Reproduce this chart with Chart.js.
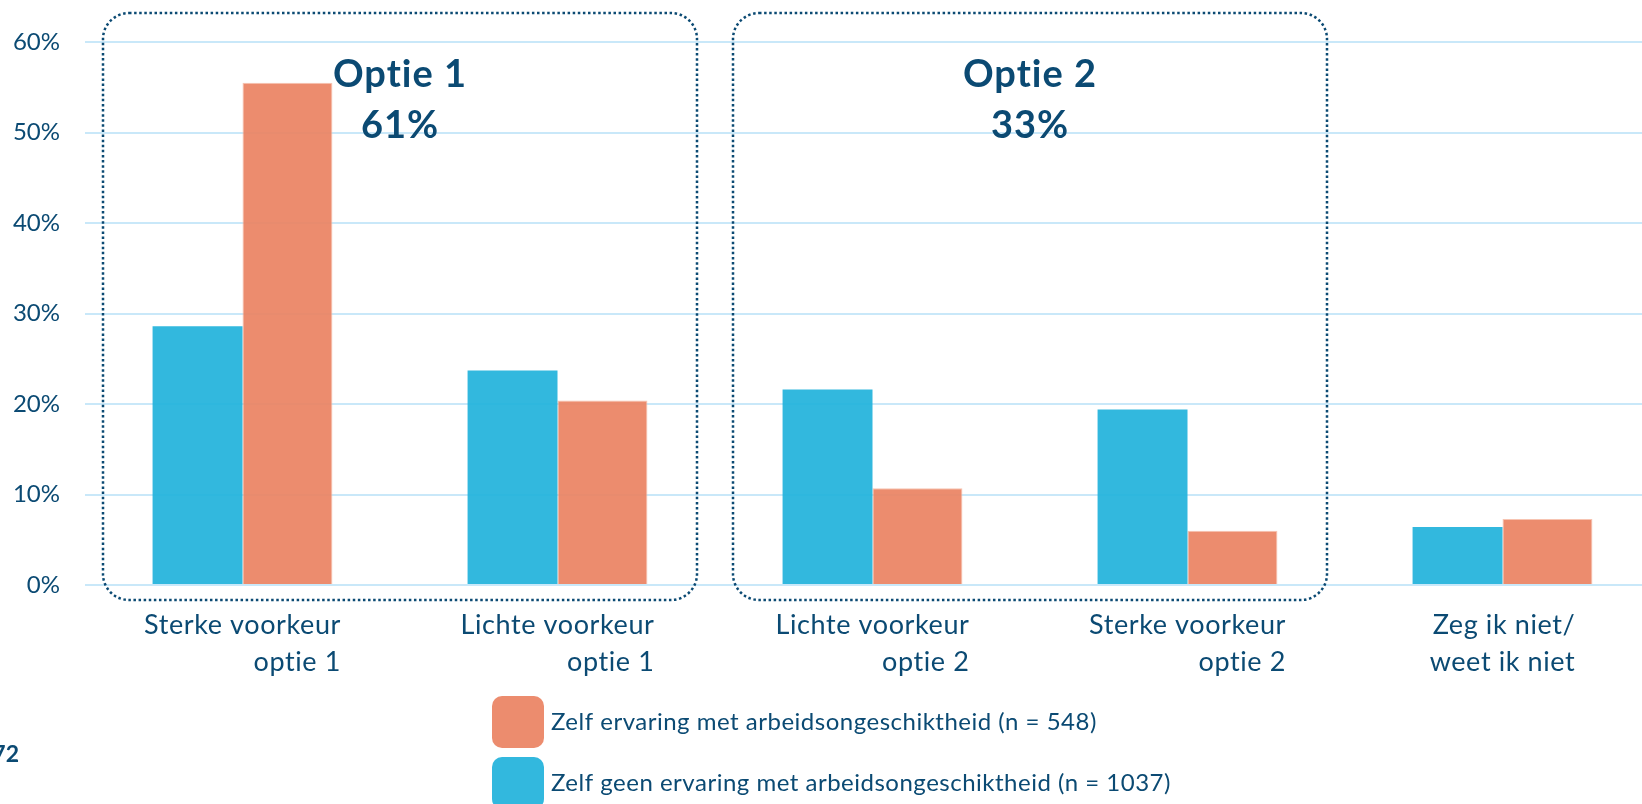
<!DOCTYPE html>
<html>
<head>
<meta charset="utf-8">
<script src="https://cdn.jsdelivr.net/npm/chart.js@4.4.1/dist/chart.umd.min.js"></script>
<style>
  html, body { margin: 0; padding: 0; background: #fff; overflow: hidden; }
  #wrap { position: relative; width: 1642px; height: 804px; overflow: hidden; }
  #chart { position: absolute; left: 0; top: 0; }
</style>
</head>
<body>
<div id="wrap"><canvas id="chart" width="1680" height="804"></canvas></div>
<script>
var categories = [
  ['Sterke voorkeur', 'optie 1'],
  ['Lichte voorkeur', 'optie 1'],
  ['Lichte voorkeur', 'optie 2'],
  ['Sterke voorkeur', 'optie 2'],
  ['Zeg ik niet/', 'weet ik niet']
];
var geenErvaring = [28.6, 23.7, 21.6, 19.4, 6.4];
var welErvaring = [55.5, 20.4, 10.7, 6.0, 7.3];
var seriesNames = [
  'Zelf geen ervaring met arbeidsongeschiktheid (n = 1037)',
  'Zelf ervaring met arbeidsongeschiktheid (n = 548)'
];
var groupTitles = ['Optie 1', 'Optie 2'];
var groupTotals = ['61%', '33%'];
var groupRanges = [[0, 1], [2, 3]];
var pageNumber = '72';

var navy = '#0b4a73';
var blue = 'rgba(33, 178, 219, 0.92)';
var orange = 'rgba(234, 130, 98, 0.92)';

function roundedRect(ctx, x, y, w, h, r) {
    ctx.beginPath();
    ctx.moveTo(x + r, y);
    ctx.arcTo(x + w, y, x + w, y + h, r);
    ctx.arcTo(x + w, y + h, x, y + h, r);
    ctx.arcTo(x, y + h, x, y, r);
    ctx.arcTo(x, y, x + w, y, r);
    ctx.closePath();
}

// dotted group boxes, group headings, two-line category labels and the legend
var overlay = {
    id: 'overlay',
    afterDraw: function(chart) {
        var ctx = chart.ctx;
        var xs = chart.scales.x;
        var area = chart.chartArea;
        var step = xs.getPixelForValue(1) - xs.getPixelForValue(0);

        ctx.save();
        for (var g = 0; g < groupRanges.length; g++) {
            var left = xs.getPixelForValue(groupRanges[g][0]) - step / 2 + 18;
            var right = xs.getPixelForValue(groupRanges[g][1]) + step / 2 - 18;
            ctx.strokeStyle = navy;
            ctx.lineWidth = 2.5;
            ctx.setLineDash([2.5, 2.6]);
            roundedRect(ctx, left, area.top - 29, right - left, area.bottom - area.top + 44, 26);
            ctx.stroke();
            ctx.setLineDash([]);

            var cx = (left + right) / 2;
            ctx.fillStyle = navy;
            ctx.font = 'bold 38px Lato';
            ctx.letterSpacing = '1px';
            ctx.textAlign = 'center';
            ctx.textBaseline = 'alphabetic';
            ctx.fillText(groupTitles[g], cx, area.top + 45);
            ctx.fillText(groupTotals[g], cx, area.top + 96);
        }

        // category labels: lines right-aligned, block centred under the bars
        ctx.font = '27px Lato';
        ctx.letterSpacing = '0.6px';
        ctx.fillStyle = navy;
        ctx.textAlign = 'right';
        for (var i = 0; i < categories.length; i++) {
            var lines = categories[i];
            var w = 0;
            for (var j = 0; j < lines.length; j++) {
                w = Math.max(w, ctx.measureText(lines[j]).width);
            }
            var xr = xs.getPixelForValue(i) + w / 2;
            for (var j = 0; j < lines.length; j++) {
                ctx.fillText(lines[j], xr, area.bottom + 49 + j * 37);
            }
        }

        // legend, orange series first
        var order = [1, 0];
        ctx.font = '24px Lato';
        ctx.letterSpacing = '0.5px';
        ctx.textAlign = 'left';
        for (var k = 0; k < order.length; k++) {
            var ds = chart.data.datasets[order[k]];
            var top = 696 + k * 61;
            ctx.fillStyle = ds.backgroundColor;
            roundedRect(ctx, 492, top, 52, 52, 10);
            ctx.fill();
            ctx.fillStyle = navy;
            ctx.fillText(ds.label, 551, top + 34);
        }

        ctx.font = 'bold 23px Lato';
        ctx.letterSpacing = '0px';
        ctx.textAlign = 'right';
        ctx.fillText(pageNumber, 19, 762);
        ctx.restore();
    }
};

var ctx = document.getElementById('chart').getContext('2d');
var chart = new Chart(ctx, {
    type: 'bar',
    data: {
        labels: categories,
        datasets: [{
            label: seriesNames[0],
            data: geenErvaring,
            backgroundColor: blue,
            borderWidth: 0
        }, {
            label: seriesNames[1],
            data: welErvaring,
            backgroundColor: orange,
            borderColor: 'rgba(246, 190, 170, 0.9)',
            borderWidth: 1
        }]
    },
    options: {
        responsive: false,
        animation: false,
        devicePixelRatio: 1,
        layout: { padding: { top: 42, right: 20, bottom: 219, left: 0 } },
        datasets: {
            bar: { categoryPercentage: 0.571, barPercentage: 1 }
        },
        plugins: {
            legend: { display: false },
            tooltip: { enabled: false }
        },
        scales: {
            x: { display: false },
            y: {
                min: 0,
                max: 60,
                afterFit: function(scale) { scale.width = 85; },
                border: { display: false },
                grid: { color: '#c9e8f9', lineWidth: 2, drawTicks: false },
                ticks: {
                    stepSize: 10,
                    padding: 25,
                    color: navy,
                    font: { family: 'Lato', size: 24 },
                    callback: function(v) { return v + '%'; }
                }
            }
        }
    },
    plugins: [overlay]
});
</script>
</body>
</html>
